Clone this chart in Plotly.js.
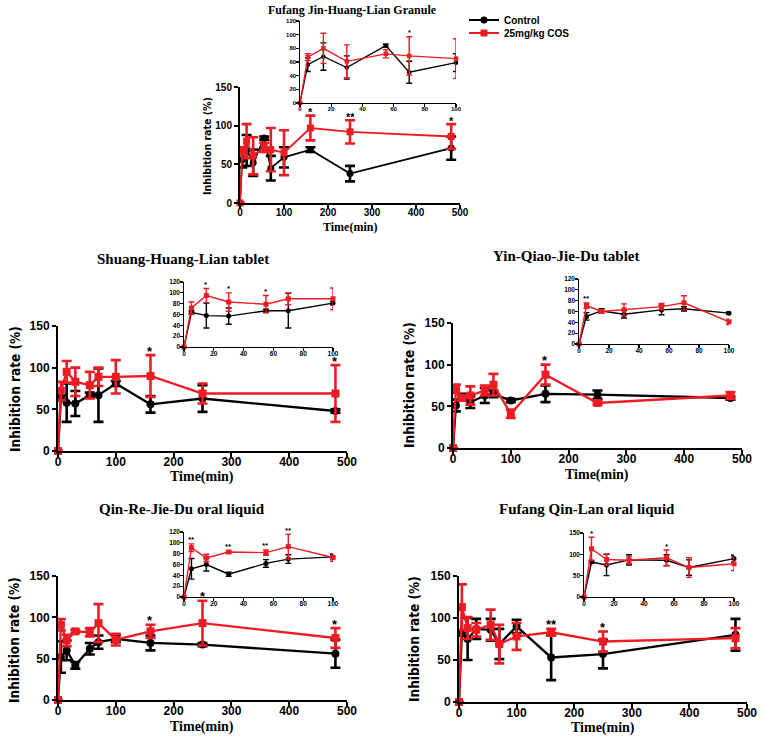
<!DOCTYPE html>
<html>
<head>
<meta charset="utf-8">
<script src="https://cdn.plot.ly/plotly-3.0.1.min.js"></script>
<style>html,body{margin:0;padding:0;background:#fff;}#chart{width:763px;height:737px;}</style>
</head>
<body>
<div id="chart"></div>
<script>
// ---- Data ----
const timeMin = [0, 5, 15, 30, 55, 70, 100, 160, 250, 480];
const insetCount = 7; // points up to 100 min shown in the insets

const jhlCtrl = [0, 56, 68, 52, 84, 45, 59, 69, 38, 71];
const jhlCtrlErr = [0, 10, 20, 17, 2, 16, 13, 3, 10, 15];
const jhlCos = [0, 67, 80, 61, 72, 69, 65, 97, 92, 86];
const jhlCosErr = [0, 5, 22, 24, 6, 28, 29, 16, 15, 16];
const jhlStarsMainT = [160, 250, 480];
const jhlStarsMain = ['*', '**', '*'];
const jhlStarsInsetT = [70];
const jhlStarsInset = ['*'];

const shlCtrl = [0, 64, 58, 57, 67, 67, 81, 56, 63, 48];
const shlCtrlErr = [0, 3, 23, 15, 3, 32, 3, 10, 16, 2];
const shlCos = [0, 72, 95, 83, 79, 89, 89, 90, 69, 69];
const shlCosErr = [0, 11, 13, 17, 16, 11, 20, 25, 12, 34];
const shlStarsMainT = [160, 480];
const shlStarsMain = ['*', '*'];
const shlStarsInsetT = [15, 30, 55];
const shlStarsInset = ['*', '*', '*'];

const yqCtrl = [0, 51, 61, 55, 63, 65, 57, 65, 64, 60];
const yqCtrlErr = [0, 7, 4, 7, 9, 4, 2, 10, 5, 2];
const yqCos = [0, 71, 60, 63, 69, 76, 41, 88, 54, 63];
const yqCosErr = [0, 5, 3, 11, 6, 13, 5, 12, 2, 4];
const yqStarsMainT = [160];
const yqStarsMain = ['*'];
const yqStarsInsetT = [5];
const yqStarsInset = ['**'];

const qrCtrl = [0, 52, 60, 42, 62, 70, 74, 69, 67, 56];
const qrCtrlErr = [0, 19, 12, 4, 7, 8, 4, 9, 2, 17];
const qrCos = [0, 91, 72, 83, 82, 93, 73, 83, 93, 75];
const qrCosErr = [0, 7, 7, 2, 5, 23, 7, 8, 27, 12];
const qrStarsMainT = [160, 250, 480];
const qrStarsMain = ['*', '*', '*'];
const qrStarsInsetT = [5, 30, 55, 70];
const qrStarsInset = ['**', '**', '**', '**'];

const qlCtrl = [0, 82, 75, 87, 86, 69, 90, 53, 57, 80];
const qlCtrlErr = [0, 3, 25, 12, 13, 18, 8, 27, 17, 19];
const qlCos = [0, 113, 88, 86, 92, 69, 78, 83, 72, 76];
const qlCosErr = [0, 27, 13, 8, 18, 23, 16, 4, 12, 12];
const qlStarsMainT = [160, 250];
const qlStarsMain = ['**', '*'];
const qlStarsInsetT = [5, 55];
const qlStarsInset = ['*', '*'];

const seriesNames = ['Control', '25mg/kg COS'];
const panelTitles = ['Fufang Jin-Huang-Lian Granule', 'Shuang-Huang-Lian tablet',
  'Yin-Qiao-Jie-Du tablet', 'Qin-Re-Jie-Du oral liquid', 'Fufang Qin-Lan oral liquid'];
const yTitle = 'Inhibition rate (%)';
const xTitle = 'Time(min)';

// ---- Styling / layout (pixels) ----
const W = 763, H = 737;
const RED = '#ec1c24', BLACK = '#000000';
const SANS = 'Liberation Sans, Arial, sans-serif';
const SERIF = 'Liberation Serif, Times New Roman, serif';
const NARROW = 'Liberation Sans Narrow, Arial Narrow, DejaVu Sans Condensed, sans-serif';

const panels = [
  {ctrl: jhlCtrl, ctrlErr: jhlCtrlErr, cos: jhlCos, cosErr: jhlCosErr,
   sMT: jhlStarsMainT, sM: jhlStarsMain, sIT: jhlStarsInsetT, sI: jhlStarsInset,
   main: {x: [240, 460], y: [87, 203]}, inset: {x: [300, 456], y: [21, 103]},
   insetMax: 120, insetDtick: 20,
   title: [352, 10, 12], ytitle: [207, 146, 10.5], xtitle: [350, 227, 12],
   tick: 10, itick: 6, star: 11, istar: 7, lw: 1.8, ms: 7, ilw: 1.3, ims: 4.5},
  {ctrl: shlCtrl, ctrlErr: shlCtrlErr, cos: shlCos, cosErr: shlCosErr,
   sMT: shlStarsMainT, sM: shlStarsMain, sIT: shlStarsInsetT, sI: shlStarsInset,
   main: {x: [58, 347], y: [326, 451]}, inset: {x: [184, 333], y: [282, 347]},
   insetMax: 120, insetDtick: 20,
   title: [183, 259, 15], ytitle: [15, 389, 13.5], xtitle: [202, 477, 14],
   tick: 12, itick: 6.5, star: 13, istar: 8, lw: 2.3, ms: 8, ilw: 1.4, ims: 5},
  {ctrl: yqCtrl, ctrlErr: yqCtrlErr, cos: yqCos, cosErr: yqCosErr,
   sMT: yqStarsMainT, sM: yqStarsMain, sIT: yqStarsInsetT, sI: yqStarsInset,
   main: {x: [453, 742], y: [323, 448]}, inset: {x: [579, 729], y: [279, 344]},
   insetMax: 120, insetDtick: 20,
   title: [566, 256, 15], ytitle: [409, 385, 13.5], xtitle: [597, 475, 14],
   tick: 12, itick: 6.5, star: 13, istar: 8, lw: 2.3, ms: 8, ilw: 1.4, ims: 5},
  {ctrl: qrCtrl, ctrlErr: qrCtrlErr, cos: qrCos, cosErr: qrCosErr,
   sMT: qrStarsMainT, sM: qrStarsMain, sIT: qrStarsInsetT, sI: qrStarsInset,
   main: {x: [58, 347], y: [576, 700]}, inset: {x: [184, 333], y: [532, 597]},
   insetMax: 120, insetDtick: 20,
   title: [182, 509, 15], ytitle: [14, 640, 13.5], xtitle: [202, 727, 14],
   tick: 12, itick: 6.5, star: 13, istar: 8, lw: 2.3, ms: 8, ilw: 1.4, ims: 5},
  {ctrl: qlCtrl, ctrlErr: qlCtrlErr, cos: qlCos, cosErr: qlCosErr,
   sMT: qlStarsMainT, sM: qlStarsMain, sIT: qlStarsInsetT, sI: qlStarsInset,
   main: {x: [459, 747], y: [576, 702]}, inset: {x: [584, 734], y: [533, 597]},
   insetMax: 150, insetDtick: 50,
   title: [587, 509, 15], ytitle: [414, 639, 13.5], xtitle: [603, 728, 14],
   tick: 12, itick: 6.5, star: 13, istar: 8, lw: 2.3, ms: 8, ilw: 1.4, ims: 5}
];

const px2x = p => p / W;
const px2y = p => 1 - p / H;

const data = [];
const annotations = [];
const legendFont = {family: SANS, size: 10, color: '#000', weight: 'bold'};
const layout = {
  width: W, height: H,
  margin: {l: 0, r: 0, t: 0, b: 0},
  paper_bgcolor: '#ffffff', plot_bgcolor: 'rgba(0,0,0,0)',
  showlegend: true,
  legend: {x: px2x(464), y: px2y(20), xanchor: 'left', yanchor: 'middle',
    bgcolor: 'rgba(0,0,0,0)', borderwidth: 0, itemwidth: 30, font: legendFont},
  legend2: {x: px2x(464), y: px2y(33), xanchor: 'left', yanchor: 'middle',
    bgcolor: 'rgba(0,0,0,0)', borderwidth: 0, itemwidth: 30, font: legendFont},
  annotations: annotations
};

function axisPair(idx, box, xr, xd, yr, yd, isMain, tickSize) {
  const lw = isMain ? 2 : 1.2;
  const common = {
    showline: true, linecolor: '#000', linewidth: lw, mirror: false,
    ticks: 'outside', ticklen: isMain ? 4 : 2.5, tickwidth: lw, tickcolor: '#000',
    showgrid: false, zeroline: false, fixedrange: true,
    tickfont: {family: SANS, size: tickSize, color: '#000', weight: 'bold'}
  };
  const xs = idx === 1 ? '' : idx;
  layout['xaxis' + xs] = Object.assign({}, common, {
    domain: [px2x(box.x[0]), px2x(box.x[1])], range: xr, dtick: xd, tick0: 0,
    anchor: 'y' + xs, ticklabelstandoff: isMain ? -5 : -3
  });
  layout['yaxis' + xs] = Object.assign({}, common, {
    domain: [px2y(box.y[1]), px2y(box.y[0])], range: yr, dtick: yd, tick0: 0,
    anchor: 'x' + xs, ticklabelstandoff: isMain ? 0 : -1
  });
}

function addSeries(idx, xs, ys, es, color, symbol, name, lw, ms, isMain, legendName) {
  const ax = idx === 1 ? '' : idx;
  const tr = {
    type: 'scatter', mode: 'lines+markers', name: name,
    x: xs, y: ys, xaxis: 'x' + ax, yaxis: 'y' + ax,
    line: {color: color, width: lw},
    marker: {color: color, symbol: symbol, size: ms, line: {width: 0}},
    error_y: {type: 'data', array: es, visible: true, color: color,
      thickness: isMain ? 2.6 : 1.4, width: isMain ? 5 : 3},
    cliponaxis: false, showlegend: !!legendName, hoverinfo: 'skip'
  };
  if (legendName) tr.legend = legendName;
  data.push(tr);
}

function addStars(idx, ts, labels, p, size) {
  const ax = idx === 1 ? '' : idx;
  ts.forEach((t, i) => {
    const k = timeMin.indexOf(t);
    const top = Math.max(p.ctrl[k] + p.ctrlErr[k], p.cos[k] + p.cosErr[k]);
    annotations.push({
      xref: 'x' + ax, yref: 'y' + ax, x: t, y: top, text: labels[i],
      showarrow: false, xanchor: 'center', yanchor: 'bottom',
      height: Math.round(size * 0.58), valign: 'top', yshift: 1.5,
      font: {family: SANS, size: size, color: '#000', weight: 'bold'}
    });
  });
}

function paperText(text, pos, family, angle) {
  annotations.push({
    xref: 'paper', yref: 'paper', x: px2x(pos[0]), y: px2y(pos[1]),
    xanchor: 'center', yanchor: 'middle', showarrow: false, text: text,
    textangle: angle || 0,
    font: {family: family, size: pos[2], color: '#000', weight: 'bold'}
  });
}

panels.forEach((p, i) => {
  const mi = 2 * i + 1, ii = 2 * i + 2;
  axisPair(mi, p.main, [0, 500], 100, [0, 150], 50, true, p.tick);
  axisPair(ii, p.inset, [0, 100], 20, [0, p.insetMax], p.insetDtick, false, p.itick);

  addSeries(mi, timeMin, p.ctrl, p.ctrlErr, BLACK, 'circle', seriesNames[0], p.lw, p.ms, true, i === 0 ? 'legend' : null);
  addSeries(mi, timeMin, p.cos, p.cosErr, RED, 'square', seriesNames[1], p.lw, p.ms, true, i === 0 ? 'legend2' : null);
  const ti = timeMin.slice(0, insetCount);
  addSeries(ii, ti, p.ctrl.slice(0, insetCount), p.ctrlErr.slice(0, insetCount), BLACK, 'circle', seriesNames[0], p.ilw, p.ims, false, null);
  addSeries(ii, ti, p.cos.slice(0, insetCount), p.cosErr.slice(0, insetCount), RED, 'square', seriesNames[1], p.ilw, p.ims, false, null);

  addStars(mi, p.sMT, p.sM, p, p.star);
  addStars(ii, p.sIT, p.sI, p, p.istar);

  paperText(panelTitles[i], p.title, SERIF, 0);
  paperText(yTitle, p.ytitle, NARROW, -90);
  paperText(xTitle, p.xtitle, SERIF, 0);
});

Plotly.newPlot('chart', data, layout, {staticPlot: true, displayModeBar: false});
</script>
</body>
</html>
